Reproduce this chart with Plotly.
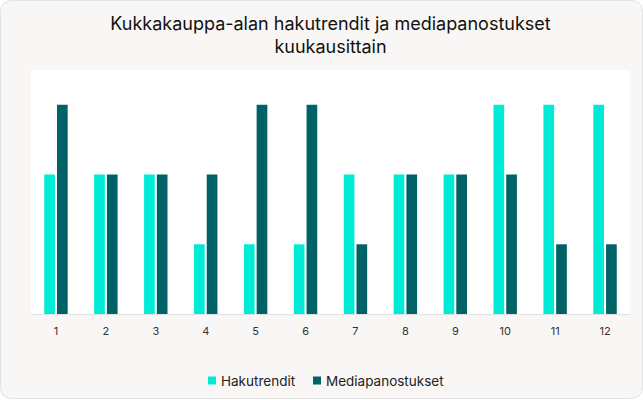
import plotly.graph_objects as go

months = ["1", "2", "3", "4", "5", "6", "7", "8", "9", "10", "11", "12"]
hakutrendit = [2, 2, 2, 1, 1, 1, 2, 2, 2, 3, 3, 3]
mediapanostukset = [3, 2, 2, 2, 3, 3, 1, 2, 2, 2, 1, 1]
series_names = ["Hakutrendit", "Mediapanostukset"]
series_colors = ["#00EBD6", "#006266"]

W, H = 643, 400
ml, mr, mt, mb = 31, 13, 70, 86
pw, ph = W - ml - mr, H - mt - mb

def px(x):
    return (x - ml) / pw

def py(y):
    return 1 - (y - mt) / ph

fig = go.Figure()
for name, vals, col in zip(series_names, [hakutrendit, mediapanostukset], series_colors):
    fig.add_trace(go.Bar(name=name, x=months, y=vals,
                         marker=dict(color=col, line=dict(width=0)), showlegend=False))

# rounded card
x0, x1, y0, y1, r = px(0.5), px(W - 0.5), py(H - 1.5), py(0.5), 12
rx, ry = r / pw, r / ph
path = (f"M {x0+rx},{y1} L {x1-rx},{y1} Q {x1},{y1} {x1},{y1-ry} "
        f"L {x1},{y0+ry} Q {x1},{y0} {x1-rx},{y0} L {x0+rx},{y0} "
        f"Q {x0},{y0} {x0},{y0+ry} L {x0},{y1-ry} Q {x0},{y1} {x0+rx},{y1} Z")
fig.add_shape(type="path", path=path, xref="paper", yref="paper",
              fillcolor="#F8F7F5", line=dict(color="#E2E2E2", width=1), layer="below")
fig.add_shape(type="rect", xref="paper", yref="paper", x0=0, x1=1, y0=0, y1=1,
              fillcolor="#FFFFFF", line=dict(width=0), layer="below")

# custom legend
legend_sym_x = [208, 313]
legend_y = 380.5
for name, col, sx in zip(series_names, series_colors, legend_sym_x):
    fig.add_shape(type="rect", xref="paper", yref="paper",
                  x0=px(sx), x1=px(sx + 8), y0=py(legend_y + 4), y1=py(legend_y - 4),
                  fillcolor=col, line=dict(width=0))
    fig.add_annotation(text=name, xref="paper", yref="paper", x=px(sx + 11), y=py(legend_y),
                       xanchor="left", yanchor="middle", showarrow=False,
                       font=dict(size=13.5, color="#222222"))

fig.update_layout(
    width=W, height=H,
    margin=dict(l=ml, r=mr, t=mt, b=mb),
    paper_bgcolor="#FFFFFF",
    plot_bgcolor="rgba(0,0,0,0)",
    font=dict(family="Inter, sans-serif", color="#222222"),
    title=dict(text="Kukkakauppa-alan hakutrendit ja mediapanostukset<br>kuukausittain",
               x=0.5, xref="paper", xanchor="center", y=1 - 30 / H, yanchor="top",
               font=dict(size=18, color="#111111")),
    barmode="group", bargap=0.49, bargroupgap=0.16,
    showlegend=False,
    xaxis=dict(showline=True, linecolor="#E0E0E0", linewidth=1, showgrid=False,
               ticks="", ticklabelstandoff=7, tickfont=dict(size=11, color="#333333"),
               fixedrange=True),
    yaxis=dict(range=[0, 3.5], showgrid=False, showticklabels=False, zeroline=False,
               showline=False, fixedrange=True),
)

fig.write_html("out.html", config={"displayModeBar": False},
               post_script="document.body.style.margin='0';document.body.style.overflow='hidden';")
